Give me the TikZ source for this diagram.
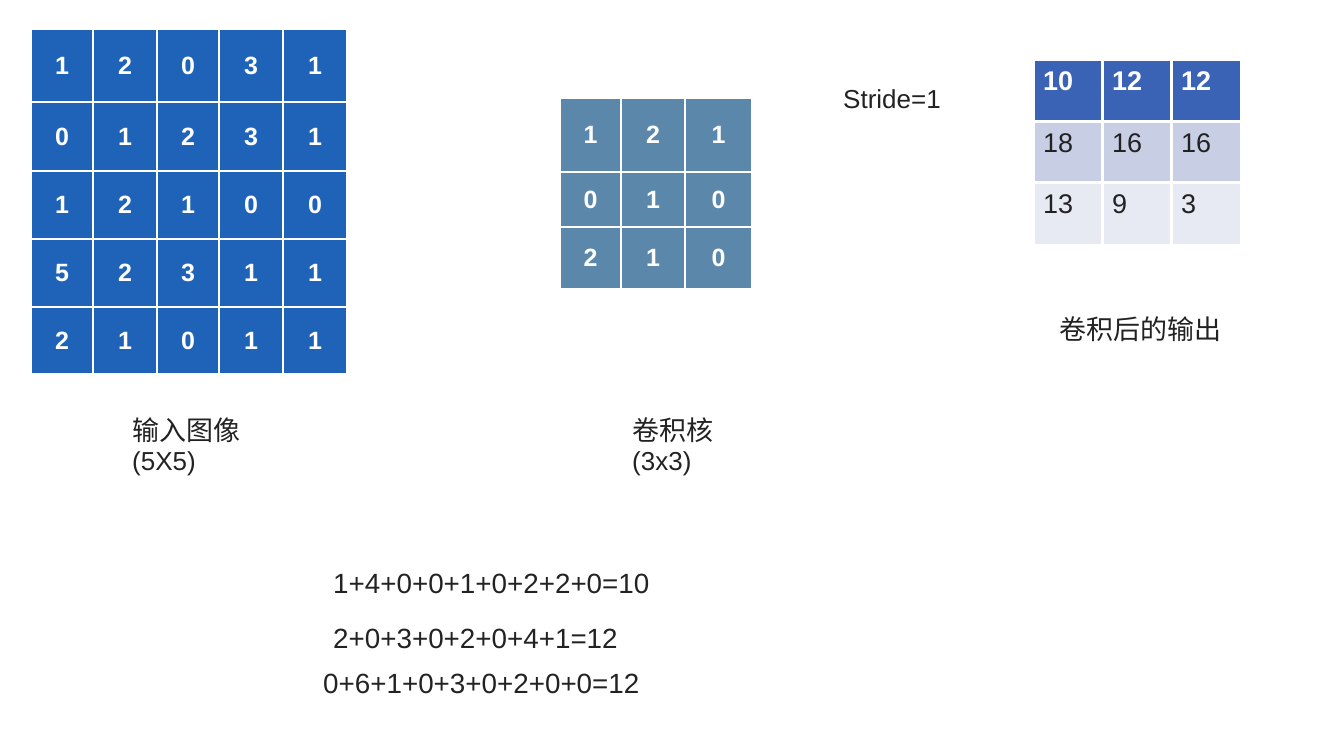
\documentclass[tikz,border=0pt]{standalone}
\usepackage{fontspec}
\setmainfont{Liberation Sans}
\newfontfamily\cjk{Noto Sans CJK SC}
\definecolor{inblue}{HTML}{1F63B8}
\definecolor{kblue}{HTML}{5B87AB}
\definecolor{outa}{HTML}{3A63B5}
\definecolor{outb}{HTML}{C8CFE5}
\definecolor{outc}{HTML}{E7E9F3}
\definecolor{txt}{HTML}{222222}
\tikzset{
  cellbox/.style={rectangle, inner sep=0pt, outer sep=0pt, draw=white, line width=1.5pt},
  incell/.style={cellbox, fill=inblue, text=white, font=\fontsize{25}{29}\selectfont\bfseries},
  kcell/.style={cellbox, fill=kblue, text=white, font=\fontsize{25}{29}\selectfont\bfseries},
  ocell/.style={cellbox, line width=3pt},
  otext/.style={anchor=base west, inner sep=0pt},
  lbl/.style={anchor=west, inner sep=0pt, text=txt, font=\fontsize{26}{30}\selectfont},
  eqlbl/.style={anchor=west, inner sep=0pt, text=txt, font=\fontsize{27.8}{32}\selectfont},
  cjklbl/.style={anchor=west, inner sep=0pt, text=txt, font=\cjk\fontsize{27}{31}\selectfont},
}
\begin{document}
\begin{tikzpicture}[x=1pt,y=1pt]
\path[use as bounding box] (0,0) rectangle (1337,-740);
% input 5x5
\foreach \row [count=\r] in {{1,2,0,3,1},{0,1,2,3,1},{1,2,1,0,0},{5,2,3,1,1},{2,1,0,1,1}} {
  \foreach \v [count=\c] in \row {
    \pgfmathsetmacro\xa{{31,93,157,219,283,347}[\c-1]}
    \pgfmathsetmacro\xb{{31,93,157,219,283,347}[\c]}
    \pgfmathsetmacro\ya{{29,102,171,239,307,374}[\r-1]}
    \pgfmathsetmacro\yb{{29,102,171,239,307,374}[\r]}
    \pgfmathsetmacro\w{\xb-\xa}
    \pgfmathsetmacro\h{\yb-\ya}
    \node[incell, minimum width=\w pt, minimum height=\h pt] (in-\r-\c) at ({(\xa+\xb)/2},{-(\ya+\yb)/2}) {\v};
  }
}
% kernel 3x3
\foreach \row [count=\r] in {{1,2,1},{0,1,0},{2,1,0}} {
  \foreach \v [count=\c] in \row {
    \pgfmathsetmacro\xa{{560,621,685,752}[\c-1]}
    \pgfmathsetmacro\xb{{560,621,685,752}[\c]}
    \pgfmathsetmacro\ya{{98,172,227,289}[\r-1]}
    \pgfmathsetmacro\yb{{98,172,227,289}[\r]}
    \pgfmathsetmacro\w{\xb-\xa}
    \pgfmathsetmacro\h{\yb-\ya}
    \node[kcell, minimum width=\w pt, minimum height=\h pt] (k-\r-\c) at ({(\xa+\xb)/2},{-(\ya+\yb)/2}) {\v};
  }
}
% output 3x3
\foreach \row/\fc/\tc/\tf [count=\r] in {{10,12,12}/outa/white/\bfseries, {18,16,16}/outb/txt/, {13,9,3}/outc/txt/} {
  \foreach \v [count=\c] in \row {
    \pgfmathsetmacro\xa{{1033,1102,1171,1241}[\c-1]}
    \pgfmathsetmacro\xb{{1033,1102,1171,1241}[\c]}
    \pgfmathsetmacro\ya{{59,121,182,245}[\r-1]}
    \pgfmathsetmacro\yb{{59,121,182,245}[\r]}
    \pgfmathsetmacro\w{\xb-\xa}
    \pgfmathsetmacro\h{\yb-\ya}
    \node[ocell, fill=\fc, minimum width=\w pt, minimum height=\h pt] (o-\r-\c) at ({(\xa+\xb)/2},{-(\ya+\yb)/2}) {};
    \node[otext, text=\tc, font=\fontsize{27}{31}\selectfont\tf] (ot-\r-\c) at ([xshift=10pt,yshift=-31pt]o-\r-\c.north west) {\v};
  }
}
% labels
\node[cjklbl] (inlbl) at (132,-430) {输入图像};
\node[lbl] (insz) at (132,-464) {(5X5)};
\node[cjklbl] (klbl) at (632,-430) {卷积核};
\node[lbl] (ksz) at (632,-464) {(3x3)};
\node[lbl] (stride) at (843,-99) {Stride=1};
\node[cjklbl, anchor=center] (olbl) at (1140,-329) {卷积后的输出};
% equations
\node[eqlbl] (eq1) at (333,-584) {1+4+0+0+1+0+2+2+0=10};
\node[eqlbl] (eq2) at (333,-639) {2+0+3+0+2+0+4+1=12};
\node[eqlbl] (eq3) at (323,-684) {0+6+1+0+3+0+2+0+0=12};
\end{tikzpicture}
\end{document}
